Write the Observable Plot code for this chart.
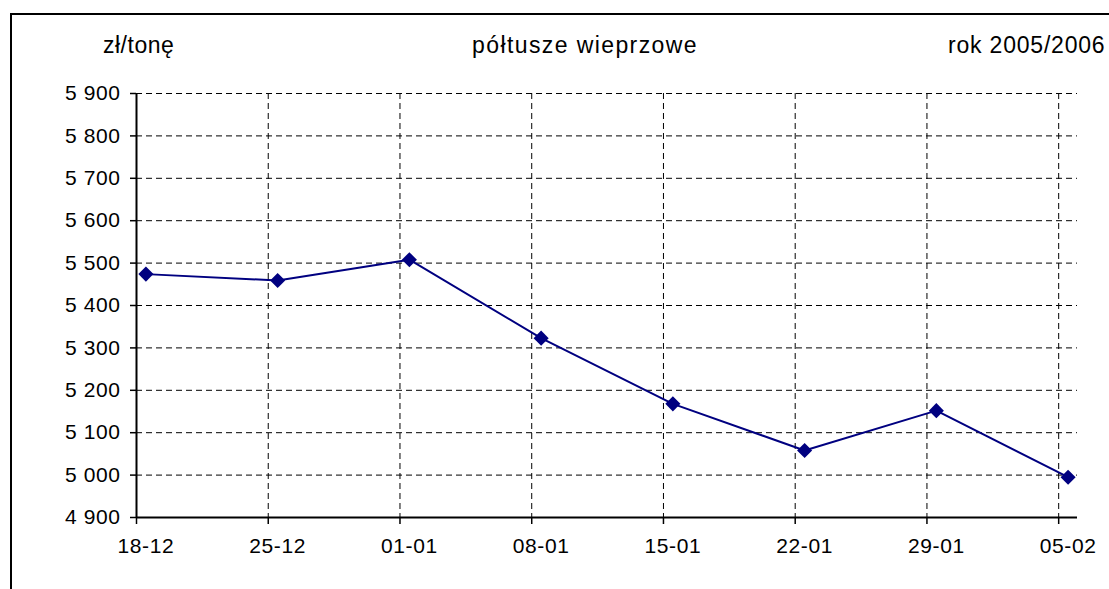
<!DOCTYPE html>
<html>
<head>
<meta charset="utf-8">
<script src="https://cdn.jsdelivr.net/npm/d3@7"></script>
<script src="https://cdn.jsdelivr.net/npm/@observablehq/plot@0.6"></script>
<style>
  html, body { margin: 0; padding: 0; background: #fff; }
  #wrap { position: relative; width: 1109px; height: 589px; overflow: hidden; font-family: "Liberation Sans", Arial, sans-serif; color: #000; }
  #frame { position: absolute; left: 10px; top: 13px; width: 1200px; height: 700px; border: 2px solid #000; box-sizing: border-box; }
  .hdr { position: absolute; top: 33.5px; font-size: 23px; line-height: 23px; white-space: nowrap; }
  #chart { position: absolute; left: 0; top: 0; }
</style>
</head>
<body>
<div id="wrap">
  <div id="frame"></div>
  <div class="hdr" id="unit" style="left:103px; letter-spacing:0.5px;">zł/tonę</div>
  <div class="hdr" id="title" style="left:585px; transform:translateX(-50%); letter-spacing:1.4px;">półtusze wieprzowe</div>
  <div class="hdr" id="year" style="left:948px; letter-spacing:0.8px;">rok 2005/2006</div>
  <div id="chart"></div>
</div>
<script>
// ---- data ----
const dates = ["2005-12-18", "2005-12-25", "2006-01-01", "2006-01-08", "2006-01-15", "2006-01-22", "2006-01-29", "2006-02-05"];
const tickLabels = ["18-12", "25-12", "01-01", "08-01", "15-01", "22-01", "29-01", "05-02"];
const prices = [5474, 5459, 5508, 5323, 5168, 5058, 5152, 4995];
const yTicks = [4900, 5000, 5100, 5200, 5300, 5400, 5500, 5600, 5700, 5800, 5900];
const xStart = "2005-12-18";
const xEnd = "2006-02-06";

// ---- derived ----
const DAY = 864e5;
const dayStarts = dates.map(s => new Date(s + "T00:00:00Z"));
const dayMids = dayStarts.map(d => new Date(+d + DAY / 2));
const labelByTime = new Map(dayMids.map((d, i) => [+d, tickLabels[i]]));
const data = dates.map((s, i) => ({date: dayMids[i], price: prices[i]}));
const fmtY = d => d3.format(",")(d).replace(/,/g, " ");

const chart = Plot.plot({
  width: 1109,
  height: 589,
  marginLeft: 136,
  marginRight: 32,
  marginTop: 93,
  marginBottom: 72,
  style: {fontFamily: "'Liberation Sans', Arial, sans-serif", fontSize: "21px", color: "#000", background: "transparent", overflow: "visible", letterSpacing: "0.6px"},
  x: {type: "utc", domain: [new Date(xStart + "T00:00:00Z"), new Date(xEnd + "T00:00:00Z")], label: null},
  y: {domain: [yTicks[0], yTicks[yTicks.length - 1]], label: null},
  marks: [
    Plot.gridY(yTicks.slice(1), {stroke: "#000", strokeOpacity: 1, strokeWidth: 1, strokeDasharray: "6,4"}),
    Plot.gridX(dayStarts.slice(1), {stroke: "#000", strokeOpacity: 1, strokeWidth: 1, strokeDasharray: "6,4"}),
    Plot.axisY(yTicks, {tickSize: 6, tickPadding: 10, tickFormat: fmtY, stroke: "#000", strokeWidth: 1.5, label: null}),
    Plot.axisX(dayStarts, {tickSize: 7, tickFormat: () => "", stroke: "#000", strokeWidth: 1.5, label: null}),
    Plot.axisX(dayMids, {tickSize: 0, tickPadding: 21, tickFormat: d => labelByTime.get(+d), label: null}),
    Plot.ruleX([dayStarts[0]], {stroke: "#000", strokeWidth: 2}),
    Plot.ruleY([yTicks[0]], {stroke: "#000", strokeWidth: 2}),
    Plot.line(data, {x: "date", y: "price", stroke: "#000080", strokeWidth: 2}),
    Plot.dot(data, {x: "date", y: "price", symbol: "diamond2", r: 6.8, fill: "#000080", stroke: "none"})
  ]
});
document.getElementById("chart").appendChild(chart);
</script>
</body>
</html>
